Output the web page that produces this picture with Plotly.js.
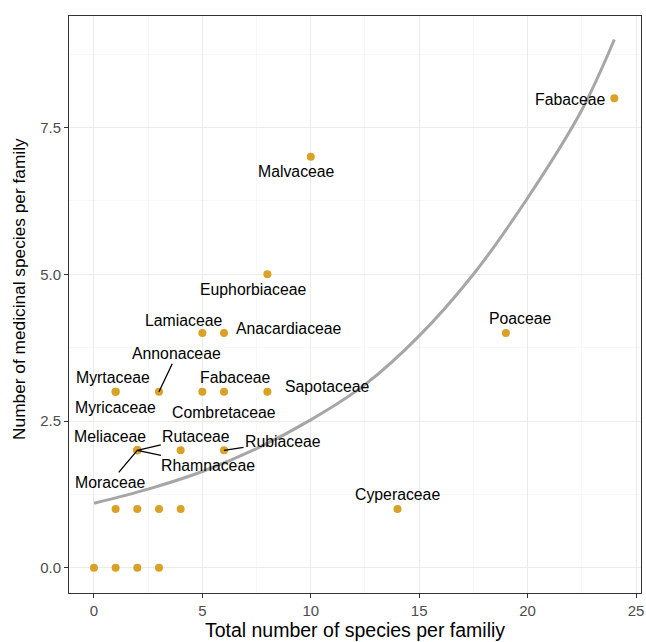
<!DOCTYPE html>
<html>
<head>
<meta charset="utf-8">
<script src="https://cdn.plot.ly/plotly-3.0.1.min.js"></script>
<style>html,body{margin:0;padding:0;background:#fff;}#chart{width:646px;height:642px;}</style>
</head>
<body>
<div id="chart"></div>
<script>
// ---- data ----
const family = ['', '', '', '', '', '', '', '',
  'Meliaceae', 'Rutaceae', 'Rhamnaceae', 'Moraceae', '', 'Rubiaceae',
  'Myrtaceae', 'Myricaceae', 'Annonaceae', 'Fabaceae', 'Combretaceae', 'Sapotaceae',
  'Lamiaceae', 'Anacardiaceae', 'Poaceae', 'Euphorbiaceae', 'Malvaceae', 'Fabaceae', 'Cyperaceae'];
const totalSpecies = [0, 1, 2, 3, 1, 2, 3, 4,
  2, 2, 2, 2, 4, 6,
  1, 1, 3, 5, 6, 8,
  5, 6, 19, 8, 10, 24, 14];
const medicinalSpecies = [0, 0, 0, 0, 1, 1, 1, 1,
  2, 2, 2, 2, 2, 2,
  3, 3, 3, 3, 3, 3,
  4, 4, 4, 5, 7, 8, 1];

// fitted curve
const fitX = [0, 2.5, 5, 7.5, 10, 12.5, 15, 17.5, 20, 22.5, 24];
const fitY = [1.10, 1.34, 1.64, 2.03, 2.52, 3.12, 3.95, 5.0, 6.3, 7.8, 9.0];

const xTicks = [0, 5, 10, 15, 20, 25];
const yTicks = [0, 2.5, 5, 7.5];
const yTickText = ['0.0', '2.5', '5.0', '7.5'];

const xTitle = 'Total number of species per familiy';
const yTitle = 'Number of medicinal species per family';

// ---- label placement (pixel offsets, ggrepel-like) ----
// [dx, dy(up positive), withSegment]
const labelPlace = {
  'Meliaceae': [-27, 14, false],
  'Rutaceae': [59, -14, true],
  'Rhamnaceae': [71, 15, true],
  'Moraceae': [-27, 32, true],
  'Rubiaceae': [59, -9, true],
  'Myrtaceae': [-3, 14, false],
  'Myricaceae': [0, -16, false],
  'Annonaceae': [18, -38, true],
  'Fabaceae@5': [33, 14, false],
  'Combretaceae': [0, -21, false],
  'Sapotaceae': [60, 5, false],
  'Lamiaceae': [-19, 12, false],
  'Anacardiaceae': [65, 4, false],
  'Poaceae': [15, 14, false],
  'Euphorbiaceae': [-14, -15, false],
  'Malvaceae': [-14, -15, false],
  'Fabaceae@24': [-44, -1, false],
  'Cyperaceae': [0, 15, false]
};

const FONT = 'Liberation Sans, Arial, Helvetica, sans-serif';
const labelFont = {family: FONT, size: 15.8, color: '#000'};
const annotations = [];
family.forEach((f, i) => {
  if (!f) return;
  let key = f;
  if (f === 'Fabaceae') key = 'Fabaceae@' + totalSpecies[i];
  const p = labelPlace[key];
  if (!p) return;
  if (p[2]) {
    annotations.push({
      x: totalSpecies[i], y: medicinalSpecies[i], xref: 'x', yref: 'y',
      text: f, showarrow: true, arrowhead: 0, arrowwidth: 1.3, arrowcolor: '#000',
      ax: p[0], ay: p[1], standoff: 0, startstandoff: 0, font: labelFont
    });
  } else {
    annotations.push({
      x: totalSpecies[i], y: medicinalSpecies[i], xref: 'x', yref: 'y',
      text: f, showarrow: false, xanchor: 'center', yanchor: 'middle',
      xshift: p[0], yshift: p[1], font: labelFont
    });
  }
});
// y-axis title
annotations.push({
  text: yTitle, xref: 'paper', yref: 'paper', x: 0, y: 0.527,
  xanchor: 'center', yanchor: 'middle', xshift: -50, textangle: -90,
  showarrow: false, font: {family: FONT, size: 17.3, color: '#000'}
});

const traces = [
  {
    x: fitX, y: fitY, type: 'scatter', mode: 'lines',
    line: {color: '#A6A6A6', width: 3, shape: 'spline', smoothing: 1},
    hoverinfo: 'skip', showlegend: false
  },
  {
    x: totalSpecies, y: medicinalSpecies, type: 'scatter', mode: 'markers',
    marker: {color: '#D9A125', size: 8},
    text: family, showlegend: false
  }
];

const axisCommon = {
  showline: true, mirror: true, linecolor: '#333333', linewidth: 1,
  ticks: 'outside', ticklen: 4, tickcolor: '#333333', tickwidth: 1,
  showgrid: true, gridcolor: '#EBEBEB', gridwidth: 1,
  zeroline: false,
  tickfont: {family: FONT, size: 15, color: '#4D4D4D'}
};

const layout = {
  width: 646, height: 642,
  margin: {l: 69, r: 5, t: 16, b: 49},
  paper_bgcolor: '#fff', plot_bgcolor: '#fff',
  showlegend: false,
  xaxis: Object.assign({}, axisCommon, {
    range: [-1.15, 25.23], tickvals: xTicks, ticktext: xTicks.map(String),
    minor: {tickvals: [2.5, 7.5, 12.5, 17.5, 22.5], showgrid: true, gridcolor: '#F3F3F3', gridwidth: 0.6, ticks: ''},
    title: {text: xTitle, standoff: 3,
      font: {family: FONT, size: 19.5, color: '#000'}}
  }),
  yaxis: Object.assign({}, axisCommon, {
    range: [-0.43, 9.40], tickvals: yTicks, ticktext: yTickText,
    minor: {tickvals: [1.25, 3.75, 6.25, 8.75], showgrid: true, gridcolor: '#F3F3F3', gridwidth: 0.6, ticks: ''}
  }),
  annotations: annotations
};

Plotly.newPlot('chart', traces, layout, {displayModeBar: false, staticPlot: true});
</script>
</body>
</html>
